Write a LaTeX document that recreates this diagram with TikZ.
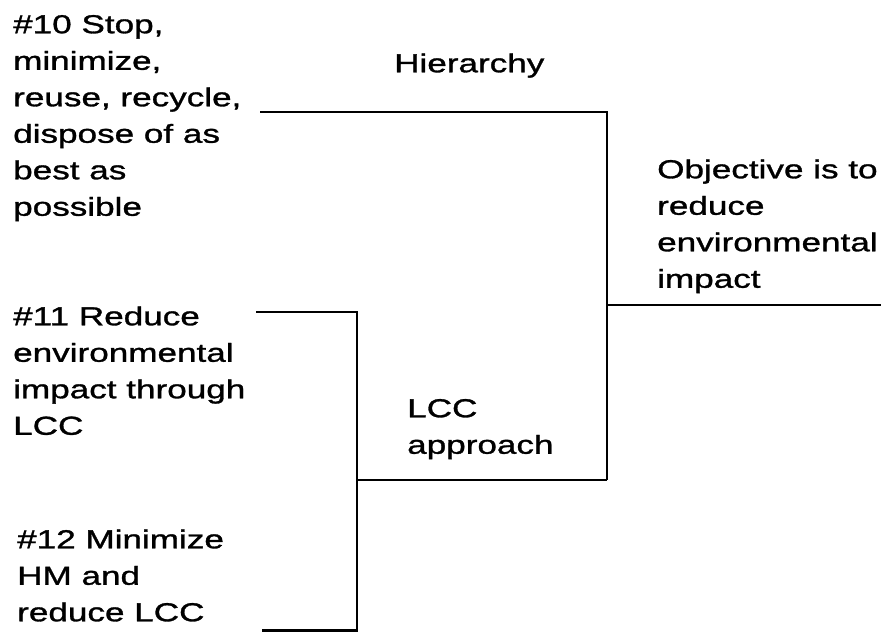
\documentclass[tikz,border=0pt]{standalone}
\usepackage{fontspec}
\setmainfont{Liberation Sans}[FakeStretch=1.35,FakeBold=1.2]
\begin{document}
\begin{tikzpicture}[x=1pt,y=-1pt,
    lbl/.style={anchor=north west,inner sep=0pt,align=left,
      font=\fontsize{26}{36.5}\selectfont},
    wire/.style={line width=2.5pt}]
  \useasboundingbox (0,0) rectangle (881,632);
  % the texts
  \node[lbl] (stop) at (13,7.5) {\strut\#10 Stop,\\minimize,\\reuse, recycle,\\dispose of as\\best as\\possible};
  \node[lbl] (hier) at (394,46.5) {\strut Hierarchy};
  \node[lbl] (objective) at (657,152.5) {\strut Objective is to\\reduce\\environmental\\impact};
  \node[lbl] (reduce) at (13,299.5) {\strut\#11 Reduce\\environmental\\impact through\\LCC};
  \node[lbl] (lccapp) at (407,391.5) {\strut LCC\\approach};
  \node[lbl] (minhm) at (17,522.5) {\strut\#12 Minimize\\HM and\\reduce LCC};
  % ends of the lines
  \coordinate (a1) at (260,112);
  \coordinate (a2) at (607,112);
  \coordinate (b1) at (256,312);
  \coordinate (b2) at (357,312);
  \coordinate (c1) at (262,630.5);
  \coordinate (c2) at (357,630.5);
  \coordinate (m1) at (357,480);
  \coordinate (m2) at (607,480);
  \coordinate (o1) at (607,305);
  \coordinate (o2) at (881,305);
  \draw[wire] (a1) -- (a2) -- (m2);
  \draw[wire] (b1) -- (b2) -- (c2) -- (c1);
  \draw[wire] (m1) -- (m2);
  \draw[wire] (o1) -- (o2);
\end{tikzpicture}
\end{document}
